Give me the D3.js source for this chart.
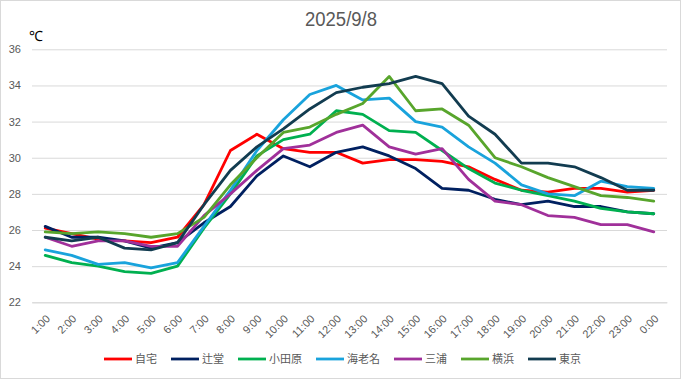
<!DOCTYPE html>
<html><head><meta charset="utf-8">
<script src="https://cdn.jsdelivr.net/npm/d3@7"></script>
<style>
html,body{margin:0;padding:0;background:#fff;}
svg{display:block;}
</style></head>
<body>
<svg id="chart" width="681" height="379"></svg>
<script>
const hours = ["1:00","2:00","3:00","4:00","5:00","6:00","7:00","8:00","9:00","10:00","11:00","12:00","13:00","14:00","15:00","16:00","17:00","18:00","19:00","20:00","21:00","22:00","23:00","0:00"];
const seriesNames = ["自宅","辻堂","小田原","海老名","三浦","横浜","東京"];
const seriesColors = ["#FF0000","#002060","#00B050","#19A3DC","#A0309A","#58A52C","#123C50"];
const jitaku   = [26.1,25.8,25.5,25.4,25.3,25.6,27.4,30.4,31.3,30.5,30.3,30.3,29.7,29.9,29.9,29.8,29.5,28.8,28.2,28.1,28.3,28.3,28.1,28.2];
const tsujido  = [26.2,25.6,25.6,25.4,25.0,25.3,26.4,27.3,29.0,30.1,29.5,30.3,30.6,30.1,29.4,28.3,28.2,27.7,27.4,27.6,27.3,27.3,27.0,26.9];
const odawara  = [24.6,24.2,24.0,23.7,23.6,24.0,26.1,28.0,30.1,31.0,31.3,32.6,32.4,31.5,31.4,30.4,29.4,28.6,28.2,27.9,27.6,27.2,27.0,26.9];
const ebina    = [24.9,24.6,24.1,24.2,23.9,24.2,26.2,28.2,30.4,32.1,33.5,34.0,33.2,33.3,32.0,31.7,30.6,29.7,28.5,28.0,27.9,28.7,28.4,28.3];
const miura    = [25.6,25.1,25.4,25.4,25.1,25.1,26.8,28.0,29.3,30.5,30.7,31.4,31.8,30.6,30.2,30.5,28.8,27.6,27.4,26.8,26.7,26.3,26.3,25.9];
const yokohama = [25.9,25.8,25.9,25.8,25.6,25.8,26.7,28.5,30.0,31.4,31.7,32.4,33.0,34.5,32.6,32.7,31.8,30.0,29.5,28.9,28.4,27.9,27.8,27.6];
const tokyo    = [25.6,25.4,25.6,25.0,24.9,25.3,27.4,29.3,30.6,31.6,32.7,33.6,33.9,34.1,34.5,34.1,32.3,31.3,29.7,29.7,29.5,28.9,28.2,28.2];
const seriesValues = [jitaku,tsujido,odawara,ebina,miura,yokohama,tokyo];
const yTicks = [22,24,26,28,30,32,34,36];
const titleText = "2025/9/8";
const unitText = "℃";

const svg = d3.select("#chart");
const W = 681, H = 379;
const pLeft = 32, pRight = 667, pTop = 49.3, pBottom = 302.3;
const textColor = "#595959";
const gridColor = "#D9D9D9";

svg.append("rect").attr("x",0.5).attr("y",0.5).attr("width",W-1).attr("height",H-1)
  .attr("fill","#fff").attr("stroke","#D9D9D9");

const x = d3.scalePoint().domain(hours).range([pLeft,pRight]).padding(0.5);
const y = d3.scaleLinear().domain([22,36]).range([pBottom,pTop]);

// gridlines
const yAxis = d3.axisLeft(y).tickValues(yTicks).tickSize(-(pRight-pLeft)).tickPadding(11).tickFormat(d3.format("d"));
const gy = svg.append("g").attr("transform",`translate(${pLeft},0)`).call(yAxis);
gy.select(".domain").remove();
gy.selectAll(".tick line").attr("stroke",gridColor).attr("stroke-width",1);
gy.selectAll(".tick text").attr("fill",textColor).attr("font-size","11px")
  .attr("font-family","'Liberation Sans', Arial, sans-serif").attr("x",-11);

// x axis
const xAxis = d3.axisBottom(x).tickSize(0).tickPadding(0);
const gx = svg.append("g").attr("transform",`translate(0,${pBottom})`).call(xAxis);
gx.select(".domain").attr("stroke",gridColor);
gx.selectAll(".tick text")
  .attr("fill",textColor).attr("font-size","11px")
  .attr("font-family","'Liberation Sans', Arial, sans-serif")
  .attr("text-anchor","end")
  .attr("dy","0")
  .attr("transform","translate(5,17) rotate(-45)")
  .attr("y",0).attr("x",0);

// lines
const line = d3.line().x((d,i)=>x(hours[i])).y(d=>y(d));
seriesValues.forEach((vals,k)=>{
  svg.append("path").datum(vals).attr("d",line)
    .attr("fill","none").attr("stroke",seriesColors[k]).attr("stroke-width",2.8)
    .attr("stroke-linejoin","round").attr("stroke-linecap","round");
});

// title
svg.append("text").attr("x",341).attr("y",26).attr("text-anchor","middle")
  .attr("fill",textColor).attr("font-size","20px").attr("textLength",72).attr("lengthAdjust","spacingAndGlyphs")
  .attr("font-family","'Liberation Sans', Arial, sans-serif").text(titleText);
svg.append("text").attr("x",29).attr("y",41).attr("fill","#000")
  .attr("font-size","14px").attr("font-family","'Liberation Sans', Arial, sans-serif").text(unitText);

// legend
const lg = svg.append("g");
let lx = 104;
const ly = 359;
seriesNames.forEach((name,k)=>{
  lg.append("line").attr("x1",lx).attr("x2",lx+28).attr("y1",ly).attr("y2",ly)
    .attr("stroke",seriesColors[k]).attr("stroke-width",2.8);
  const t = lg.append("text").attr("x",lx+31).attr("y",ly+4)
    .attr("fill",textColor).attr("font-size","11px")
    .attr("font-family","'Noto Sans CJK JP', sans-serif").text(name);
  lx += 31 + t.node().getComputedTextLength() + 14;
});
</script>
</body></html>
